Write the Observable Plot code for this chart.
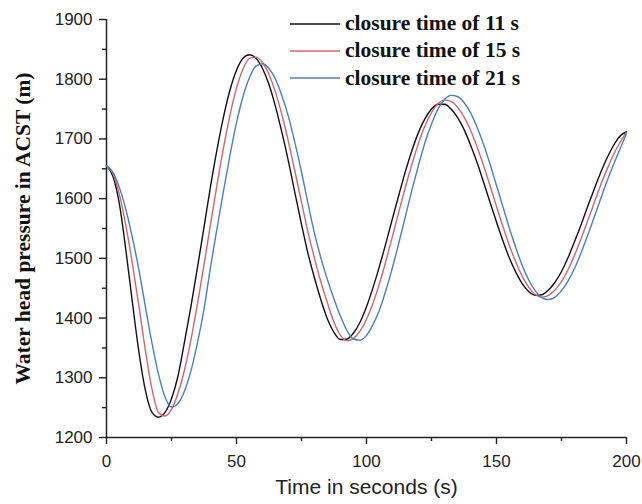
<!DOCTYPE html>
<html>
<head>
<meta charset="utf-8">
<script src="https://cdn.jsdelivr.net/npm/d3@7"></script>
<script src="https://cdn.jsdelivr.net/npm/@observablehq/plot@0.6"></script>
<style>
  html, body { margin: 0; padding: 0; background: #fff; }
  #wrap { position: relative; width: 642px; height: 504px; }
  #legend { position: absolute; left: 290px; top: 10px; font-family: "Liberation Serif", "Times New Roman", serif; font-weight: bold; font-size: 21.5px; color: #111; }
  .row { display: flex; align-items: center; height: 27.3px; }
  .row svg { margin-right: 5px; }
</style>
</head>
<body>
<div id="wrap"><div id="legend"></div></div>
<script>
// Time (s)
const time = d3.range(0, 200.01, 2.5);

const seriesNames = ["closure time of 11 s", "closure time of 15 s", "closure time of 21 s"];
const seriesColors = ["#111111", "#d2666a", "#4a80bb"];

// closure time of 11 s
const head11 = [1655,1637,1590,1512,1425,1342,1278,1242,1234,1242,1265,1303,1360,1420,1485,1552,1620,1682,1737,1782,1815,1835,1841,1835,1818,1791,1754,1710,1662,1609,1557,1508,1467,1430,1398,1376,1364,1365,1375,1393,1419,1451,1487,1526,1567,1607,1646,1681,1711,1734,1750,1758,1758,1750,1736,1716,1690,1661,1628,1594,1561,1529,1500,1476,1457,1444,1438,1439,1447,1460,1478,1501,1528,1556,1586,1615,1643,1668,1689,1705,1712];
// closure time of 15 s
const head15 = [1655,1642,1606,1554,1490,1419,1345,1281,1242,1236,1247,1274,1313,1364,1424,1489,1557,1623,1685,1740,1785,1817,1835,1837,1828,1808,1778,1740,1695,1645,1594,1544,1500,1460,1425,1393,1371,1362,1366,1378,1398,1425,1458,1496,1537,1579,1620,1658,1693,1722,1744,1759,1765,1763,1753,1737,1715,1687,1656,1622,1587,1553,1521,1493,1469,1451,1439,1435,1438,1447,1461,1481,1505,1533,1562,1592,1622,1649,1674,1694,1711];
// closure time of 21 s
const head21 = [1655,1644,1618,1581,1534,1480,1418,1358,1306,1268,1251,1257,1278,1312,1359,1415,1485,1550,1613,1673,1727,1771,1803,1822,1826,1818,1800,1772,1737,1693,1645,1592,1542,1500,1464,1432,1403,1379,1365,1363,1371,1389,1414,1447,1485,1527,1571,1615,1656,1694,1725,1750,1766,1773,1771,1761,1744,1720,1691,1658,1622,1586,1550,1517,1487,1463,1445,1434,1431,1435,1446,1462,1483,1509,1538,1568,1599,1629,1657,1683,1709];

const xTicks = [0, 50, 100, 150, 200];
const xMinor = [25, 75, 125, 175];
const yTicks = [1200, 1300, 1400, 1500, 1600, 1700, 1800, 1900];
const yMinor = [1250, 1350, 1450, 1550, 1650, 1750, 1850];

const xTitle = "Time in seconds (s)";
const yTitle = "Water head pressure in ACST (m)";

const allSeries = [head11, head15, head21];
const rows = [];
allSeries.forEach((vals, k) => time.forEach((t, i) => rows.push({t, v: vals[i], s: seriesNames[k]})));

const chart = Plot.plot({
  width: 642,
  height: 504,
  marginLeft: 106,
  marginRight: 16,
  marginTop: 19,
  marginBottom: 67,
  style: {fontFamily: "'Liberation Sans', Arial, sans-serif", fontSize: "17px", color: "#222", background: "white"},
  x: {domain: [0, 200], label: null},
  y: {domain: [1200, 1900], label: null},
  color: {domain: seriesNames, range: seriesColors},
  marks: [
    Plot.axisX({ticks: xTicks, tickSize: 7, tickPadding: 10, label: null, strokeWidth: 1.4, tickFormat: d => String(d)}),
    Plot.axisX({ticks: xMinor, tickSize: 4, text: null, label: null, strokeWidth: 1.4}),
    Plot.axisY({ticks: yTicks, tickSize: 7, tickPadding: 7, label: null, strokeWidth: 1.4, tickFormat: d => String(d)}),
    Plot.axisY({ticks: yMinor, tickSize: 4, text: null, label: null, strokeWidth: 1.4}),
    Plot.ruleX([0], {stroke: "#222", strokeWidth: 1.5}),
    Plot.ruleY([1200], {stroke: "#222", strokeWidth: 1.5}),
    Plot.line(rows, {x: "t", y: "v", stroke: "s", z: "s", strokeWidth: 1.4, curve: "monotone-x"}),
    Plot.text([xTitle], {frameAnchor: "bottom", dy: 56, fontSize: 21, fill: "#222"}),
    Plot.text([yTitle], {frameAnchor: "left", dx: -83, rotate: -90, textAnchor: "middle", fontSize: 21.5, fontWeight: "bold", fontFamily: "'Liberation Serif', 'Times New Roman', serif", fill: "#111"})
  ]
});
document.getElementById("wrap").prepend(chart);

const legend = d3.select("#legend");
seriesNames.forEach((name, k) => {
  const row = legend.append("div").attr("class", "row");
  const s = row.append("svg").attr("width", 50).attr("height", 4);
  s.append("line").attr("x1", 0).attr("x2", 50).attr("y1", 2).attr("y2", 2).attr("stroke", seriesColors[k]).attr("stroke-width", 1.5);
  row.append("span").text(name);
});
</script>
</body>
</html>
